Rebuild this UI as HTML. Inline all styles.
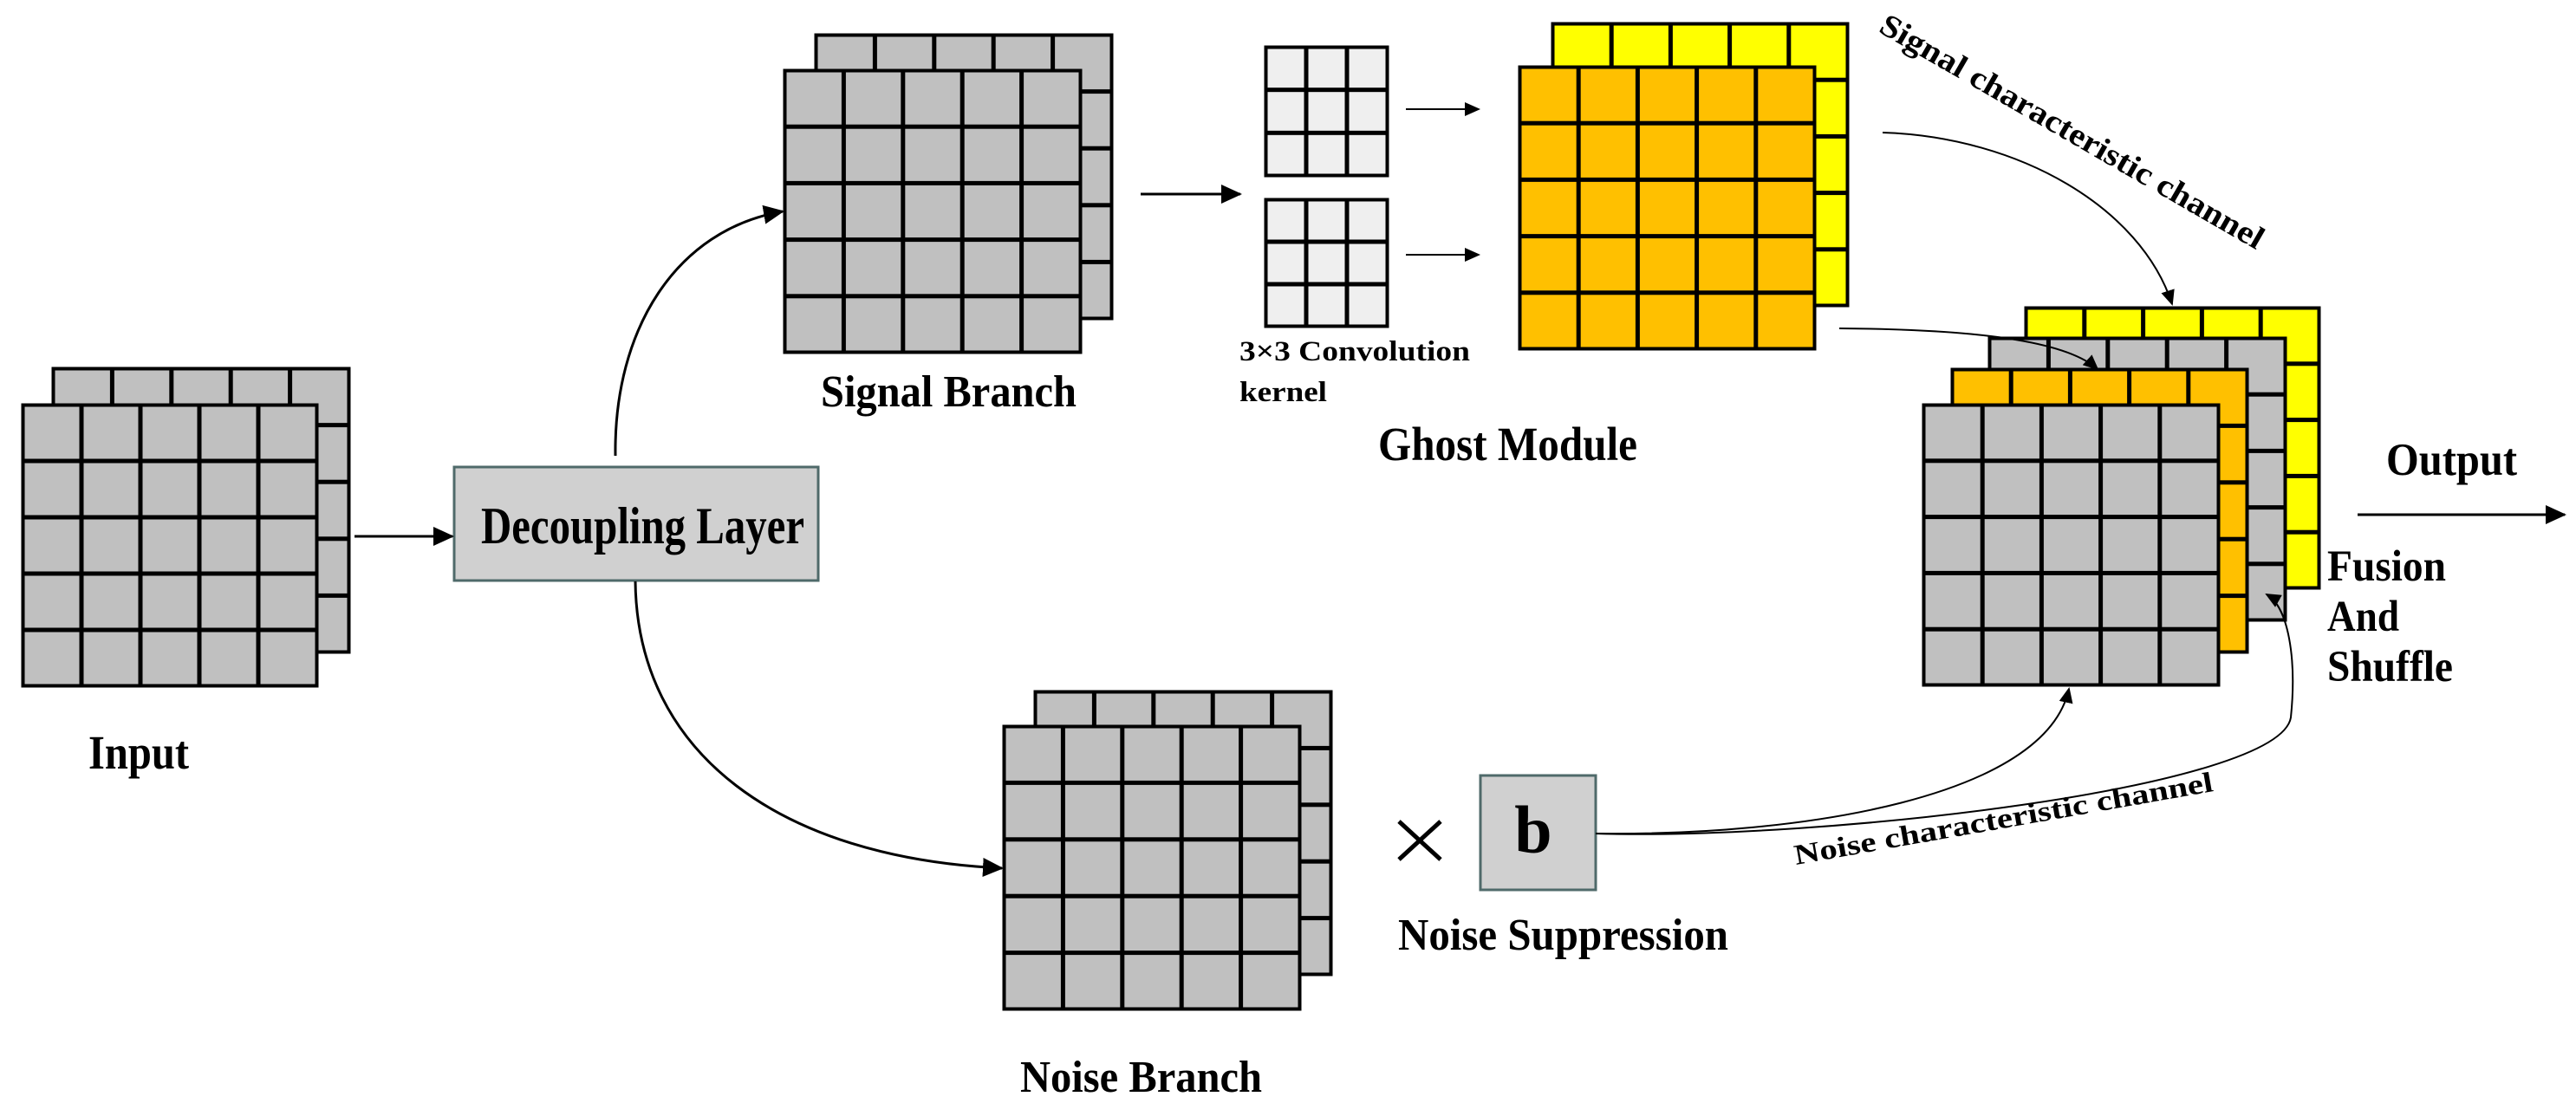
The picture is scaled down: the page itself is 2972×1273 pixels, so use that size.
<!DOCTYPE html>
<html><head><meta charset="utf-8"><style>html,body{margin:0;padding:0;background:#fff}svg{display:block}text{font-family:"Liberation Serif",serif;font-weight:bold;fill:#000}</style></head><body>
<svg width="2972" height="1273" viewBox="0 0 2972 1273" xmlns="http://www.w3.org/2000/svg">
<defs>
<marker id="ahB" markerWidth="24" markerHeight="22" refX="22" refY="11" orient="auto" markerUnits="userSpaceOnUse"><path d="M0,0 L24,11 L0,22 z" fill="#000"/></marker>
<marker id="ahS" markerWidth="18" markerHeight="16" refX="16" refY="8" orient="auto" markerUnits="userSpaceOnUse"><path d="M0,0 L18,8 L0,16 z" fill="#000"/></marker>
<pattern id="p1" patternUnits="userSpaceOnUse" x="61" y="425" width="68.4" height="65.6"><rect width="68.4" height="65.6" fill="#c0c0c0" stroke="#000" stroke-width="5"/></pattern>
<pattern id="p2" patternUnits="userSpaceOnUse" x="26" y="467" width="68" height="65"><rect width="68" height="65" fill="#c0c0c0" stroke="#000" stroke-width="5"/></pattern>
<pattern id="p3" patternUnits="userSpaceOnUse" x="941" y="40" width="68.4" height="65.6"><rect width="68.4" height="65.6" fill="#c0c0c0" stroke="#000" stroke-width="5"/></pattern>
<pattern id="p4" patternUnits="userSpaceOnUse" x="905" y="81" width="68.4" height="65.2"><rect width="68.4" height="65.2" fill="#c0c0c0" stroke="#000" stroke-width="5"/></pattern>
<pattern id="p5" patternUnits="userSpaceOnUse" x="1194" y="798" width="68.4" height="65.4"><rect width="68.4" height="65.4" fill="#c0c0c0" stroke="#000" stroke-width="5"/></pattern>
<pattern id="p6" patternUnits="userSpaceOnUse" x="1158" y="838" width="68.4" height="65.4"><rect width="68.4" height="65.4" fill="#c0c0c0" stroke="#000" stroke-width="5"/></pattern>
<pattern id="p7" patternUnits="userSpaceOnUse" x="1460" y="54" width="47" height="49.67"><rect width="47" height="49.67" fill="#efefef" stroke="#000" stroke-width="5"/></pattern>
<pattern id="p8" patternUnits="userSpaceOnUse" x="1460" y="230" width="47" height="49"><rect width="47" height="49" fill="#efefef" stroke="#000" stroke-width="5"/></pattern>
<pattern id="p9" patternUnits="userSpaceOnUse" x="1791" y="27" width="68.2" height="65.2"><rect width="68.2" height="65.2" fill="#ffff00" stroke="#000" stroke-width="5"/></pattern>
<pattern id="p10" patternUnits="userSpaceOnUse" x="1753" y="77" width="68.2" height="65.2"><rect width="68.2" height="65.2" fill="#ffc000" stroke="#000" stroke-width="5"/></pattern>
<pattern id="p11" patternUnits="userSpaceOnUse" x="2337" y="355" width="67.8" height="64.8"><rect width="67.8" height="64.8" fill="#ffff00" stroke="#000" stroke-width="5"/></pattern>
<pattern id="p12" patternUnits="userSpaceOnUse" x="2295" y="390" width="68.4" height="65.2"><rect width="68.4" height="65.2" fill="#c0c0c0" stroke="#000" stroke-width="5"/></pattern>
<pattern id="p13" patternUnits="userSpaceOnUse" x="2252" y="426" width="68.2" height="65.4"><rect width="68.2" height="65.4" fill="#ffc000" stroke="#000" stroke-width="5"/></pattern>
<pattern id="p14" patternUnits="userSpaceOnUse" x="2219" y="467" width="68.2" height="64.8"><rect width="68.2" height="64.8" fill="#c0c0c0" stroke="#000" stroke-width="5"/></pattern>
</defs>
<g stroke="#000" stroke-width="3">
<rect x="61" y="425" width="342" height="328" fill="url(#p1)"/>
<rect x="26" y="467" width="340" height="325" fill="url(#p2)"/>
<rect x="941" y="40" width="342" height="328" fill="url(#p3)"/>
<rect x="905" y="81" width="342" height="326" fill="url(#p4)"/>
<rect x="1194" y="798" width="342" height="327" fill="url(#p5)"/>
<rect x="1158" y="838" width="342" height="327" fill="url(#p6)"/>
<rect x="1460" y="54" width="141" height="149" fill="url(#p7)"/>
<rect x="1460" y="230" width="141" height="147" fill="url(#p8)"/>
<rect x="1791" y="27" width="341" height="326" fill="url(#p9)"/>
<rect x="1753" y="77" width="341" height="326" fill="url(#p10)"/>
<rect x="2337" y="355" width="339" height="324" fill="url(#p11)"/>
<rect x="2295" y="390" width="342" height="326" fill="url(#p12)"/>
<rect x="2252" y="426" width="341" height="327" fill="url(#p13)"/>
<rect x="2219" y="467" width="341" height="324" fill="url(#p14)"/>
</g>
<rect x="524" y="539" width="420" height="131" fill="#d0d0d0" stroke="#4f6a6a" stroke-width="3"/>
<rect x="1708" y="895" width="133" height="132" fill="#d0d0d0" stroke="#4f6a6a" stroke-width="3"/>
<g fill="none" stroke="#000">
<line x1="409" y1="619" x2="522" y2="619" stroke-width="3" marker-end="url(#ahB)"/>
<line x1="1316" y1="224" x2="1431" y2="224" stroke-width="3" marker-end="url(#ahB)"/>
<line x1="1622" y1="126" x2="1706" y2="126" stroke-width="2" marker-end="url(#ahS)"/>
<line x1="1622" y1="294" x2="1706" y2="294" stroke-width="2" marker-end="url(#ahS)"/>
<line x1="2720" y1="594" x2="2959" y2="594" stroke-width="3" marker-end="url(#ahB)"/>
<path d="M710 526 C 708 380, 780 265, 903 244" stroke-width="3" marker-end="url(#ahB)"/>
<path d="M733 671 C 735 870, 900 990, 1156 1002" stroke-width="3" marker-end="url(#ahB)"/>
<path d="M2172 153 C 2330 158, 2470 240, 2506 351" stroke-width="2" marker-end="url(#ahS)"/>
<path d="M2122 379 C 2260 380, 2380 390, 2420 426" stroke-width="2" marker-end="url(#ahS)"/>
<path d="M1841 962 C 2080 965, 2360 920, 2387 795" stroke-width="2" marker-end="url(#ahS)"/>
<path d="M1841 962 C 2100 970, 2630 910, 2643 828 C 2650 760, 2640 700, 2615 686" stroke-width="2" marker-end="url(#ahS)"/>
<line x1="1614" y1="948" x2="1662" y2="992" stroke-width="5"/>
<line x1="1662" y1="948" x2="1614" y2="992" stroke-width="5"/>
</g>
<text x="102" y="887" font-size="55" textLength="116" lengthAdjust="spacingAndGlyphs">Input</text>
<text x="555" y="627" font-size="60" textLength="373" lengthAdjust="spacingAndGlyphs">Decoupling Layer</text>
<text x="947" y="469" font-size="52" textLength="295" lengthAdjust="spacingAndGlyphs">Signal Branch</text>
<text x="1177" y="1260" font-size="52" textLength="279" lengthAdjust="spacingAndGlyphs">Noise Branch</text>
<text x="1430" y="416" font-size="33" textLength="266" lengthAdjust="spacingAndGlyphs">3×3 Convolution</text>
<text x="1430" y="463" font-size="33" textLength="101" lengthAdjust="spacingAndGlyphs">kernel</text>
<text x="1590" y="531" font-size="55" textLength="299" lengthAdjust="spacingAndGlyphs">Ghost Module</text>
<text x="2753" y="548" font-size="53" textLength="151" lengthAdjust="spacingAndGlyphs">Output</text>
<text x="2685" y="670" font-size="51" textLength="137" lengthAdjust="spacingAndGlyphs">Fusion</text>
<text x="2685" y="728" font-size="51" textLength="83" lengthAdjust="spacingAndGlyphs">And</text>
<text x="2685" y="786" font-size="51" textLength="145" lengthAdjust="spacingAndGlyphs">Shuffle</text>
<text x="1613" y="1096" font-size="52" textLength="381" lengthAdjust="spacingAndGlyphs">Noise Suppression</text>
<text x="1769" y="984" font-size="78" text-anchor="middle">b</text>
<text x="0" y="0" font-size="37" textLength="505" lengthAdjust="spacingAndGlyphs" transform="translate(2166 36) rotate(30)">Signal characteristic channel</text>
<text x="0" y="0" font-size="33" textLength="490" lengthAdjust="spacingAndGlyphs" transform="translate(2072 998) rotate(-10)">Noise characteristic channel</text>
</svg>
</body></html>
